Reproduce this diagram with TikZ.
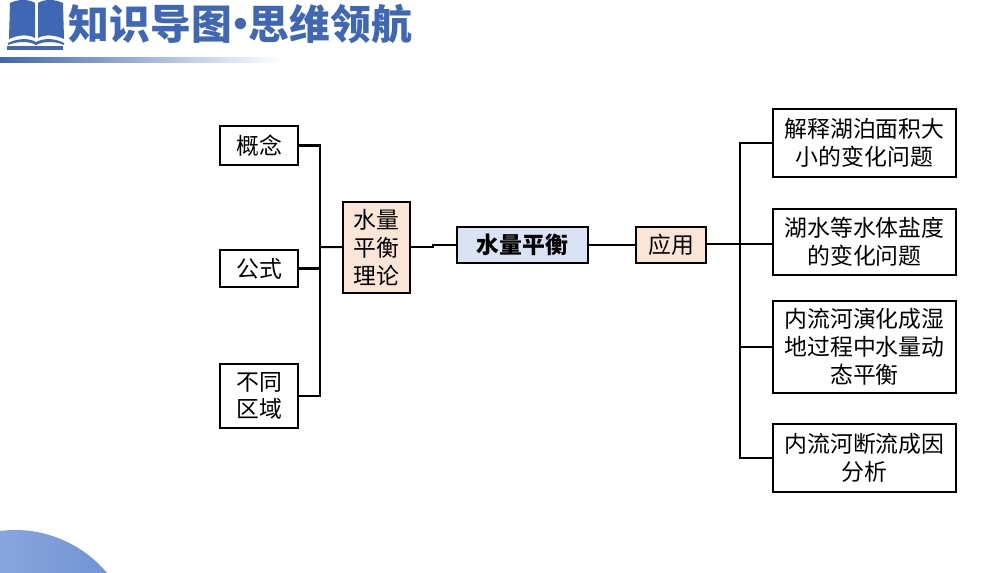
\documentclass[tikz,border=0pt]{standalone}
\usepackage{fontspec}
\usepackage{xcolor}
\setmainfont{Noto Sans CJK SC}
\definecolor{titleblue}{HTML}{3F67B3}
\definecolor{peach}{HTML}{FBE5D6}
\definecolor{paleblue}{HTML}{D9E3F3}
\definecolor{discleft}{HTML}{9DB5E3}
\definecolor{discright}{HTML}{6C90D4}
\begin{document}
\begin{tikzpicture}[x=0.01cm,y=-0.01cm]
\tikzstyle{box}=[draw=black, line width=0.55pt, align=center, inner sep=0pt, outer sep=0pt, font=\fontsize{6.5}{7.9}\selectfont]
\tikzstyle{leaf}=[box, fill=white, minimum width=0.78cm]
\tikzstyle{case}=[box, fill=white, minimum width=1.83cm]
\tikzstyle{mid}=[box, fill=peach]
\tikzstyle{link}=[line width=0.58pt]
\useasboundingbox (0,0) rectangle (1002,573);
\begin{scope}
\clip (0,0) rectangle (1002,573);
\shade[left color=discleft, right color=discright] (15,650) circle (120);
\end{scope}
\shade[left color=titleblue, right color=white] (0,58) rectangle (282,63);
\fill[titleblue] (9,39) -- (10,3) .. controls (18,-1) and (29,-1) .. (35,3) -- (35,38) .. controls (28,34) and (18,35) .. (9,39) -- cycle;
\fill[titleblue] (38,38) -- (38,3) .. controls (44,-1) and (55,-1) .. (63,3) -- (64,39) .. controls (55,35) and (45,34) .. (38,38) -- cycle;
\fill[titleblue] (8,43) .. controls (18,38) and (29,38) .. (36,42) .. controls (44,38) and (55,38) .. (64,43) -- (64,45) .. controls (55,41) and (44,41) .. (36,45) .. controls (29,41) and (18,41) .. (8,45) -- cycle;
\fill[titleblue] (7,46) -- (63,46) -- (63,50) -- (7,50) -- cycle;
\node[text=titleblue, inner sep=0pt, font=\fontsize{11.6}{13}\selectfont\bfseries] (title) at (240.5,24) {知识导图\hspace{-3.4pt}·\hspace{-3.4pt}思维领航};

\node[leaf, minimum height=0.39cm] (gainian) at (259,145.5) {概念};
\node[leaf, minimum height=0.37cm] (gongshi) at (259,268.5) {公式};
\node[leaf, minimum height=0.64cm] (quyu) at (259,396) {不同\\区域};
\node[mid, minimum width=0.67cm, minimum height=0.91cm] (lilun) at (376.5,247.5) {水量\\平衡\\理论};
\node[box, fill=paleblue, minimum width=1.31cm, minimum height=0.36cm, font=\fontsize{6.5}{7.8}\selectfont\bfseries] (pingheng) at (522.5,245) {水量平衡};
\node[mid, minimum width=0.70cm, minimum height=0.36cm] (yingyong) at (671,245) {应用};
\node[case, minimum height=0.68cm] (hupo) at (864.5,143) {解释湖泊面积大\\小的变化问题};
\node[case, minimum height=0.66cm] (yandu) at (864.5,242) {湖水等水体盐度\\的变化问题};
\node[case, minimum height=0.92cm] (shidi) at (864.5,347) {内流河演化成湿\\地过程中水量动\\态平衡};
\node[case, minimum height=0.68cm] (duanliu) at (864.5,458) {内流河断流成因\\分析};

\coordinate (lbus) at (320,247);
\coordinate (rbus) at (740,244);
\coordinate (jog) at (433,245);

\draw[link] (gainian) -| (lbus);
\draw[link] (gongshi) -| (lbus);
\draw[link] (quyu) -| (lbus);
\draw[link] (lbus) -- (lilun);
\draw[link] (lilun.east |- lbus) -| (jog) -- (pingheng.west |- jog);
\draw[link] (pingheng) -- (yingyong);
\draw[line width=0.85pt] (yingyong.east |- rbus) -- (rbus);
\draw[link] (rbus) |- (hupo);
\draw[link] (rbus) -- (yandu.west |- rbus);
\draw[link] (rbus) |- (shidi);
\draw[link] (rbus) |- (duanliu);
\end{tikzpicture}
\end{document}
